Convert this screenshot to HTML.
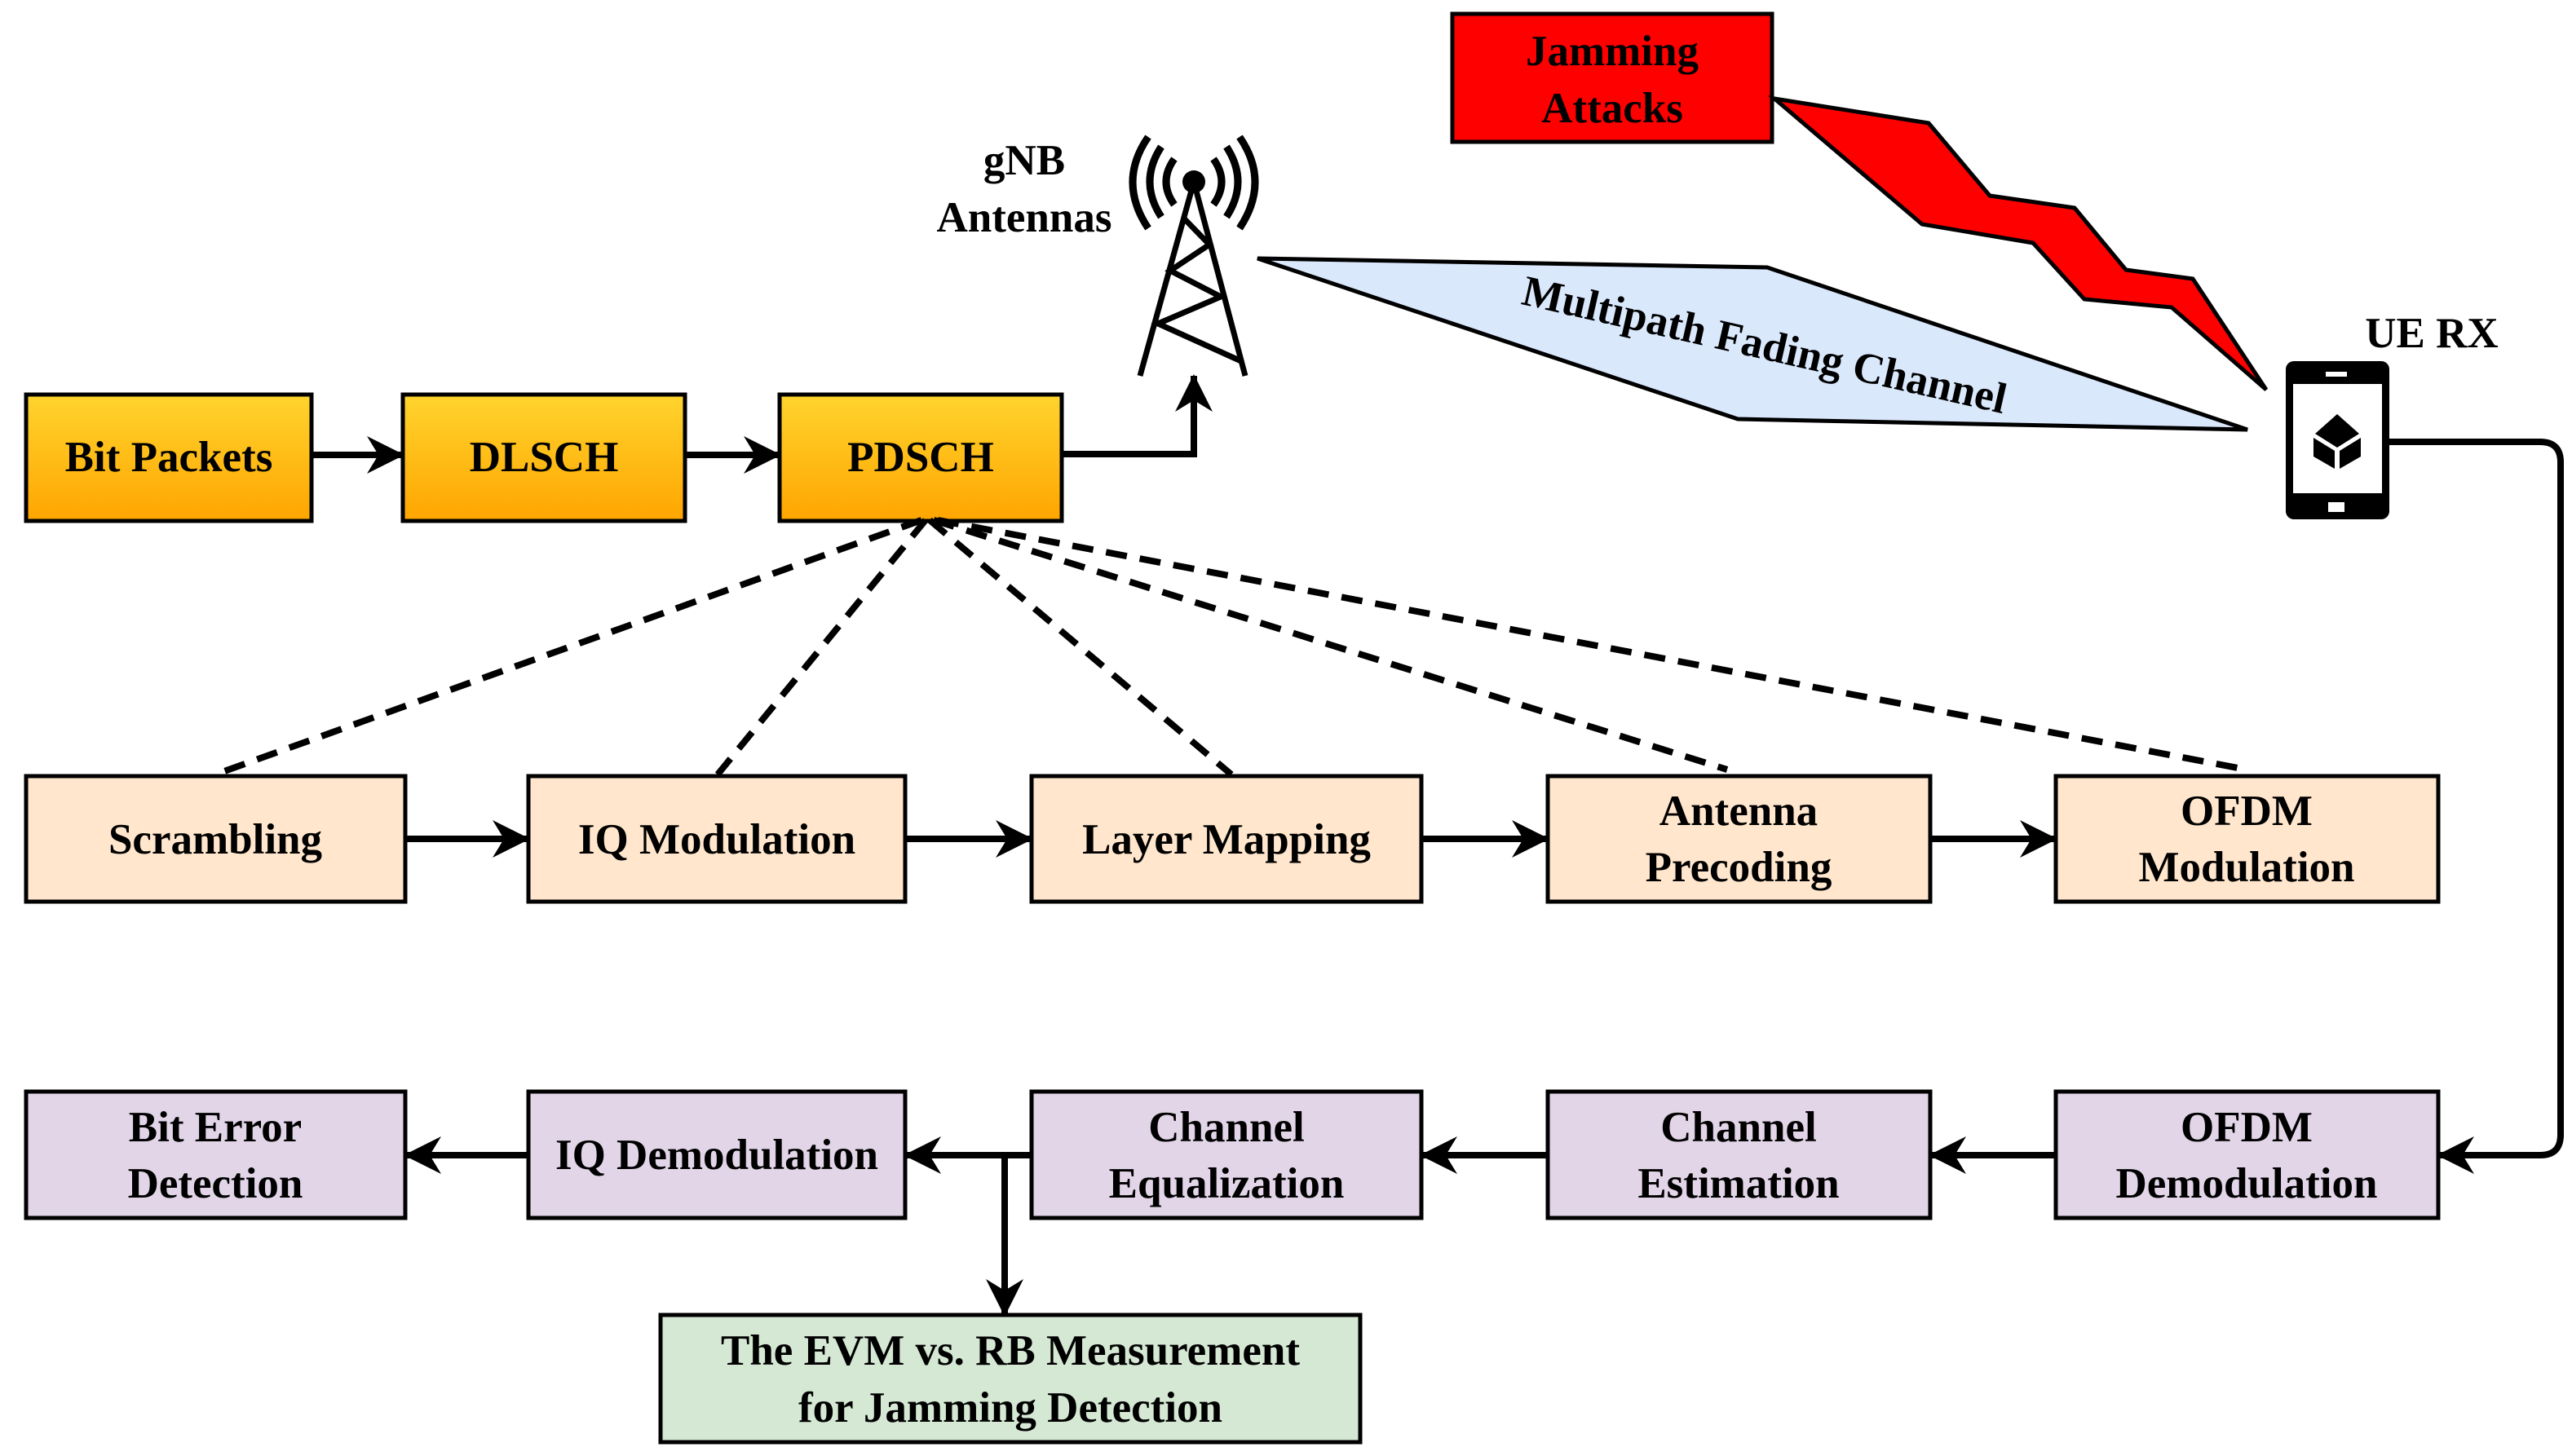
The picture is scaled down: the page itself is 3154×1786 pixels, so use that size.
<!DOCTYPE html>
<html><head><meta charset="utf-8"><style>
html,body{margin:0;padding:0;background:#fff;}
svg{display:block;}
.t text{font-family:"Liberation Serif","Times New Roman","DejaVu Serif",serif;font-weight:bold;font-size:53px;fill:#000;text-anchor:middle;}
</style></head><body>
<svg width="3154" height="1786" viewBox="0 0 3154 1786" xmlns="http://www.w3.org/2000/svg">
<defs>
<linearGradient id="og" x1="0" y1="0" x2="0" y2="1"><stop offset="0" stop-color="#FFD42E"/><stop offset="1" stop-color="#FFA500"/></linearGradient>
<marker id="ah" viewBox="0 0 46 46" refX="44" refY="23" markerWidth="46" markerHeight="46" markerUnits="userSpaceOnUse" orient="auto">
<path d="M0,0 L46,23 L0,46 L14,23 Z" fill="#000"/></marker>
</defs>
<g stroke="#000" stroke-width="5">
<rect x="32" y="484" width="350" height="155" fill="url(#og)"/>
<rect x="494" y="484" width="346" height="155" fill="url(#og)"/>
<rect x="956" y="484" width="346" height="155" fill="url(#og)"/>
<rect x="32" y="952" width="465" height="154" fill="#FFE6CC"/>
<rect x="648" y="952" width="462" height="154" fill="#FFE6CC"/>
<rect x="1265" y="952" width="478" height="154" fill="#FFE6CC"/>
<rect x="1898" y="952" width="469" height="154" fill="#FFE6CC"/>
<rect x="2521" y="952" width="469" height="154" fill="#FFE6CC"/>
<rect x="32" y="1339" width="465" height="155" fill="#E1D5E7"/>
<rect x="648" y="1339" width="462" height="155" fill="#E1D5E7"/>
<rect x="1265" y="1339" width="478" height="155" fill="#E1D5E7"/>
<rect x="1898" y="1339" width="469" height="155" fill="#E1D5E7"/>
<rect x="2521" y="1339" width="469" height="155" fill="#E1D5E7"/>
<rect x="810" y="1613" width="858" height="156" fill="#D5E8D4"/>
<rect x="1781" y="17" width="392" height="157" fill="#FF0000"/>
<polygon points="2176,121 2365,151 2440,240 2544,255 2607,331 2689,342 2779,478 2663,377 2556,367 2493,298 2357,275" fill="#FF0000"/>
<polygon points="1542,317 2167,328 2756,527 2131,514" fill="#DAE8FC"/>
</g>
<g stroke="#000" stroke-width="8" fill="none">
<line x1="382" y1="558" x2="494" y2="558" marker-end="url(#ah)"/>
<line x1="840" y1="558" x2="956" y2="558" marker-end="url(#ah)"/>
<polyline points="1302,557 1464,557 1464,461" marker-end="url(#ah)"/>
<line x1="497" y1="1029" x2="648" y2="1029" marker-end="url(#ah)"/>
<line x1="1110" y1="1029" x2="1265" y2="1029" marker-end="url(#ah)"/>
<line x1="1743" y1="1029" x2="1898" y2="1029" marker-end="url(#ah)"/>
<line x1="2367" y1="1029" x2="2521" y2="1029" marker-end="url(#ah)"/>
<line x1="2521" y1="1417" x2="2367" y2="1417" marker-end="url(#ah)"/>
<line x1="1898" y1="1417" x2="1743" y2="1417" marker-end="url(#ah)"/>
<line x1="1265" y1="1417" x2="1110" y2="1417" marker-end="url(#ah)"/>
<line x1="648" y1="1417" x2="497" y2="1417" marker-end="url(#ah)"/>
<line x1="1232" y1="1417" x2="1232" y2="1613" marker-end="url(#ah)"/>
<path d="M2930,542 L3115,542 Q3140,542 3140,567 L3140,1392 Q3140,1417 3115,1417 L2990,1417" marker-end="url(#ah)"/>
<g stroke-dasharray="26,16">
<line x1="1130" y1="638" x2="264" y2="950"/>
<line x1="1135" y1="638" x2="880" y2="950"/>
<line x1="1140" y1="638" x2="1510" y2="950"/>
<line x1="1145" y1="638" x2="2118" y2="944"/>
<line x1="1150" y1="638" x2="2755" y2="944"/>
</g>
</g>
<g stroke="#000" stroke-width="7" fill="none">
<line x1="1464" y1="223" x2="1398" y2="461"/>
<line x1="1464" y1="223" x2="1527" y2="461"/>
<polyline points="1452,268 1483,300 1435,332 1497,364 1420,397 1522,443"/>
</g>
<circle cx="1464" cy="223" r="14" fill="#000"/>
<g stroke="#000" stroke-width="9" fill="none">
<path d="M1440,195 Q1420,223 1440,251"/><path d="M1488,195 Q1508,223 1488,251"/>
<path d="M1424,180 Q1396,223 1424,266"/><path d="M1504,180 Q1532,223 1504,266"/>
<path d="M1408,168 Q1370,223 1408,280"/><path d="M1520,168 Q1558,223 1520,280"/>
</g>
<rect x="2803" y="443" width="127" height="194" rx="10" fill="#000"/>
<rect x="2812" y="471" width="109" height="134" fill="#fff"/>
<rect x="2852" y="456" width="26" height="6" fill="#fff"/>
<rect x="2855" y="616" width="20" height="12" fill="#fff"/>
<polygon points="2866,508 2893,532 2866,549 2839,532" fill="#000"/>
<polygon points="2837,537 2863,553 2863,575 2837,560" fill="#000"/>
<polygon points="2895,537 2869,553 2869,575 2895,560" fill="#000"/>
<g class="t" font-family="Liberation Serif, Times New Roman, DejaVu Serif, serif" font-weight="bold">
<text x="207" y="578">Bit Packets</text>
<text x="667" y="578">DLSCH</text>
<text x="1129" y="578">PDSCH</text>
<text x="264" y="1047">Scrambling</text>
<text x="879" y="1047">IQ Modulation</text>
<text x="1504" y="1047">Layer Mapping</text>
<text x="2132" y="1012">Antenna</text>
<text x="2132" y="1081">Precoding</text>
<text x="2755" y="1012">OFDM</text>
<text x="2755" y="1081">Modulation</text>
<text x="264" y="1400">Bit Error</text>
<text x="264" y="1469">Detection</text>
<text x="879" y="1434">IQ Demodulation</text>
<text x="1504" y="1400">Channel</text>
<text x="1504" y="1469">Equalization</text>
<text x="2132" y="1400">Channel</text>
<text x="2132" y="1469">Estimation</text>
<text x="2755" y="1400">OFDM</text>
<text x="2755" y="1469">Demodulation</text>
<text x="1239" y="1674">The EVM vs. RB Measurement</text>
<text x="1239" y="1744">for Jamming Detection</text>
<text x="1977" y="80">Jamming</text>
<text x="1977" y="150">Attacks</text>
<text x="1256" y="214">gNB</text>
<text x="1256" y="284">Antennas</text>
<text x="2982" y="426">UE RX</text>
<text x="2160" y="440" transform="rotate(12.8 2160 440)">Multipath Fading Channel</text>
</g>
</svg>
</body></html>
